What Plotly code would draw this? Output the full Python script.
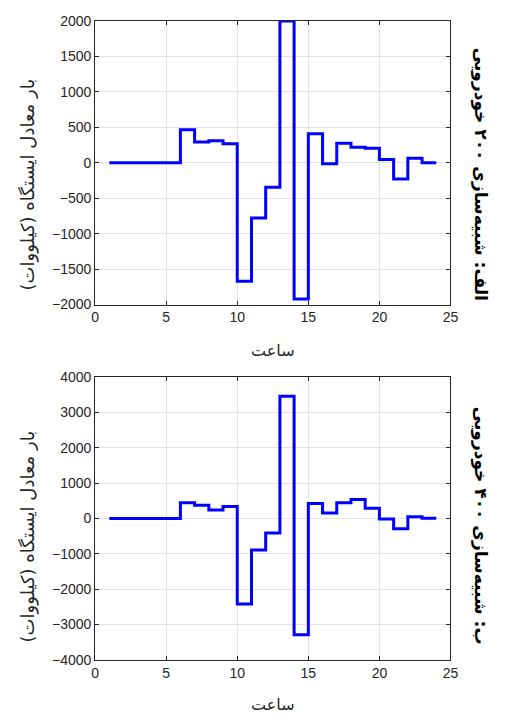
import plotly.graph_objects as go

hours = list(range(1, 25))
load_200 = [0, 0, 0, 0, 0, 465, 292, 310, 270, -1670, -780, -345, 2000, -1920,
            410, -15, 275, 220, 205, 45, -230, 65, 0, 0]
load_400 = [0, 0, 0, 0, 0, 440, 375, 240, 340, -2420, -890, -410, 3450, -3290,
            420, 150, 440, 535, 285, -20, -295, 45, 5, 5]

x_ticks = [0, 5, 10, 15, 20, 25]
y_ticks_top = [-2000, -1500, -1000, -500, 0, 500, 1000, 1500, 2000]
y_ticks_bot = [-4000, -3000, -2000, -1000, 0, 1000, 2000, 3000, 4000]

x_title = "ساعت"
y_title = "بار معادل ایستگاه (کیلووات)"
title_top = "الف: شبیه‌سازی ۲۰۰ خودرویی"
title_bot = "ب: شبیه‌سازی ۴۰۰ خودرویی"

W, H = 508, 720
fig = go.Figure()
fig.add_trace(go.Scatter(x=hours, y=load_200, mode="lines", line=dict(shape="hv", color="#0000FF", width=3),
                         xaxis="x", yaxis="y", showlegend=False))
fig.add_trace(go.Scatter(x=hours, y=load_400, mode="lines", line=dict(shape="hv", color="#0000FF", width=3),
                         xaxis="x2", yaxis="y2", showlegend=False))

xd = [93.3 / W, 457.3 / W]
ax_common = dict(showline=True, linecolor="#262626", linewidth=1, mirror="ticks", ticks="inside",
                 ticklen=4, tickcolor="#262626", showgrid=True, gridcolor="#E3E3E3", gridwidth=1,
                 zeroline=False, tickfont=dict(family="Liberation Sans, Arial", size=14, color="#262626"))

fig.update_layout(
    width=W, height=H, margin=dict(l=0, r=0, t=0, b=0),
    paper_bgcolor="white", plot_bgcolor="white",
    xaxis=dict(domain=xd, range=[0, 25], tickvals=x_ticks, anchor="y", **ax_common),
    yaxis=dict(domain=[(H - 303.3) / H, (H - 13.3) / H], range=[-2000, 2000], tickvals=y_ticks_top,
               anchor="x", **ax_common),
    xaxis2=dict(domain=xd, range=[0, 25], tickvals=x_ticks, anchor="y2", **ax_common),
    yaxis2=dict(domain=[(H - 666.7) / H, (H - 377.3) / H], range=[-4000, 4000], tickvals=y_ticks_bot,
                anchor="x2", **ax_common),
)

xfont = dict(family="DejaVu Sans", size=16, color="#262626")
yfont = dict(family="DejaVu Sans", size=18, color="#262626")
bfont = dict(family="DejaVu Sans", size=17, color="black")
ann = []
ann.append(dict(text=x_title, x=(xd[0] + xd[1]) / 2, y=(H - 350) / H, xref="paper", yref="paper",
                showarrow=False, font=xfont, xanchor="center", yanchor="middle"))
ann.append(dict(text=x_title, x=(xd[0] + xd[1]) / 2, y=(H - 712) / H, xref="paper", yref="paper",
                showarrow=False, font=xfont, xanchor="center", yanchor="middle"))
ann.append(dict(text=y_title, x=25 / W, y=(H - 180) / H, xref="paper", yref="paper", textangle=-90,
                showarrow=False, font=yfont, xanchor="center", yanchor="middle"))
ann.append(dict(text=y_title, x=25 / W, y=(H - 540) / H, xref="paper", yref="paper", textangle=-90,
                showarrow=False, font=yfont, xanchor="center", yanchor="middle"))
ann.append(dict(text="<b>" + title_top + "</b>", x=488 / W, y=(H - 170) / H, xref="paper", yref="paper",
                textangle=90, showarrow=False, font=bfont, xanchor="center", yanchor="middle"))
ann.append(dict(text="<b>" + title_bot + "</b>", x=488 / W, y=(H - 530) / H, xref="paper", yref="paper",
                textangle=90, showarrow=False, font=bfont, xanchor="center", yanchor="middle"))
fig.update_layout(annotations=ann)

fig.write_html("out.html")
